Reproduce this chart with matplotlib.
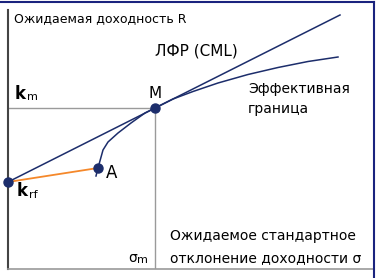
import matplotlib.pyplot as plt
from matplotlib.lines import Line2D

# risk (sigma) and expected return, arbitrary units
krf = (0.0, 8.7)
point_a = (9.0, 10.1)
point_m = (14.7, 16.1)
cml_sigma = [0.0, 33.2]
cml_ret = [8.7, 25.4]
frontier_sigma = [8.8, 9.0, 9.5, 10.0, 11.0, 12.3, 13.7, 14.7, 16.5, 18.5, 21.0, 24.0, 27.0, 30.0, 33.0]
frontier_ret = [9.3, 10.1, 11.9, 12.7, 13.6, 14.6, 15.6, 16.1, 17.0, 17.75, 18.6, 19.45, 20.15, 20.75, 21.2]

navy = "#1c2d6b"
orange = "#f5882a"
grey = "#9a9a9a"

fig = plt.figure(figsize=(3.81, 2.78), dpi=100)
ax = fig.add_axes([8 / 381, 9 / 278, 365 / 381, 259 / 278])
ax.set_xlim(0, 36.5)
ax.set_ylim(0, 25.9)
ax.set_xticks([])
ax.set_yticks([])
ax.spines["top"].set_visible(False)
ax.spines["right"].set_visible(False)
ax.spines["left"].set_color("#444444")
ax.spines["left"].set_linewidth(1.5)
ax.spines["bottom"].set_color(grey)
ax.spines["bottom"].set_linewidth(1.2)

# guides to M
ax.plot([0, point_m[0]], [point_m[1], point_m[1]], color=grey, lw=1)
ax.plot([point_m[0], point_m[0]], [0, point_m[1]], color=grey, lw=1)

ax.plot(cml_sigma, cml_ret, color=navy, lw=1.1)
ax.plot(frontier_sigma, frontier_ret, color=navy, lw=1.1)
ax.plot([krf[0], point_a[0]], [krf[1], point_a[1]], color=orange, lw=1.3)

for p in (krf, point_a, point_m):
    ax.plot(p[0], p[1], "o", color=navy, ms=6.5, clip_on=False, zorder=5)

fs = 10
ax.text(0.6, 25.0, "Ожидаемая доходность R", fontsize=9, va="center")
ax.text(14.7, 21.8, "ЛФР (CML)", fontsize=11, va="center")
ax.text(14.0, 17.6, "M", fontsize=fs + 1, va="center")
ax.text(0.6, 17.5, r"$\mathbf{k}$", fontsize=fs + 2, va="center")
ax.text(1.9, 17.2, "m", fontsize=8, va="center")
ax.text(24.0, 18.0, "Эффективная", fontsize=fs, va="center")
ax.text(24.0, 16.0, "граница", fontsize=fs, va="center")
ax.text(9.8, 9.6, "A", fontsize=fs + 2, va="center")
ax.text(0.8, 7.8, r"$\mathbf{k}$", fontsize=fs + 2, va="center")
ax.text(2.1, 7.4, "rf", fontsize=8, va="center")
ax.text(16.2, 3.3, "Ожидаемое стандартное", fontsize=fs, va="center")
ax.text(16.2, 1.1, "отклонение доходности σ", fontsize=fs, va="center")
ax.text(12.0, 1.1, "σ", fontsize=fs, va="center")
ax.text(12.9, 0.9, "m", fontsize=8, va="center")

# outer frame lines (top and right)
fig.add_artist(Line2D([0, 374 / 381], [1 - 2 / 278, 1 - 2 / 278], color="#1a237e", lw=1.5))
fig.add_artist(Line2D([374 / 381, 374 / 381], [0, 1 - 2 / 278], color="#1a237e", lw=1.5))

fig.savefig("out.png", dpi=100)
